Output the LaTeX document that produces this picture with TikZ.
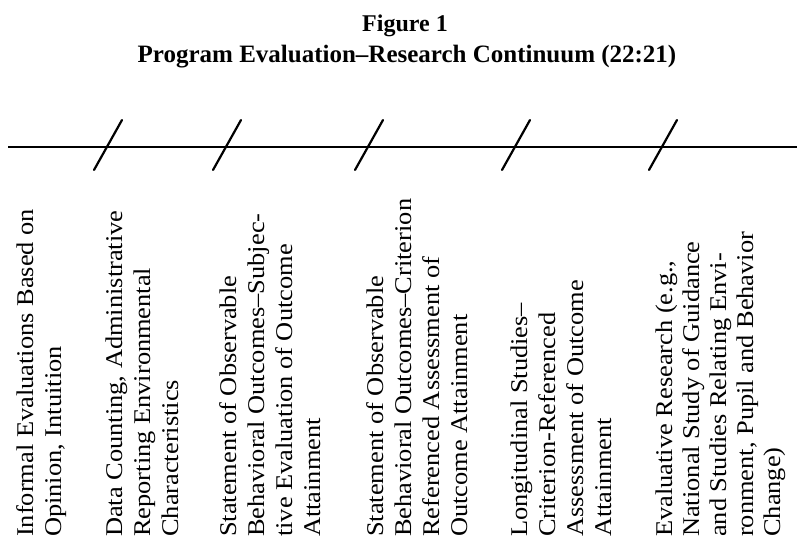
\documentclass[tikz,border=0pt]{standalone}
\usepackage{fontspec}
\setmainfont{Liberation Serif}
\newfontfamily\scanfont[FakeStretch=1.1,Ligatures=TeX]{Liberation Serif}
\usepackage{tikz}
\usetikzlibrary{positioning}

\begin{document}
\begin{tikzpicture}[
  x=1bp,y=-1bp,
  axis/.style={line width=2.2bp},
  tick/.style={line width=2.2bp,line cap=round},
  stage/.style={rotate=90,anchor=base west,align=left,inner sep=0pt,
                font=\scanfont\fontsize{24bp}{28bp}\selectfont},
  head/.style={anchor=base,inner sep=0pt,font=\bfseries\fontsize{24bp}{28bp}\selectfont}]
\useasboundingbox (0,0) rectangle (797,542);

\node[head] (fig) at (405,32) {Figure 1};
\node[head,font=\bfseries\fontsize{25bp}{28bp}\selectfont] (title) at (407,63)
  {Program Evaluation--Research Continuum (22:21)};

% the continuum
\coordinate (start) at (8,147);
\coordinate (end) at (797,147);
\draw[axis] (start) -- (end);
\foreach \x [count=\i] in {107,226,368,515,662}
  \draw[tick] (\x,147) coordinate (cut\i) ++(-13,23) -- ++(28,-50);

% stages, placed by the baseline of their last line
\node[stage] (informal) at (61,537)
  {Informal Evaluations Based on\\ Opinion, Intuition};
\node[stage] (counting) at (178,537)
  {Data Counting, Administrative\\ Reporting Environmental\\ Characteristics};
\node[stage] (subjective) at (320,537)
  {Statement of Observable\\ Behavioral Outcomes--Subjec-\\ tive Evaluation of Outcome\\ Attainment};
\node[stage] (criterion) at (467,537)
  {Statement of Observable\\ Behavioral Outcomes--Criterion\\ Referenced Assessment of\\ Outcome Attainment};
\node[stage] (longitudinal) at (611,537)
  {Longitudinal Studies--\\ Criterion-Referenced\\ Assessment of Outcome\\ Attainment};
\node[stage,font=\scanfont\fontsize{24bp}{27bp}\selectfont] (research) at (780,537)
  {Evaluative Research (e.g.,\\ National Study of Guidance\\ and Studies Relating Envi-\\ ronment, Pupil and Behavior\\ Change)};
\end{tikzpicture}
\end{document}
